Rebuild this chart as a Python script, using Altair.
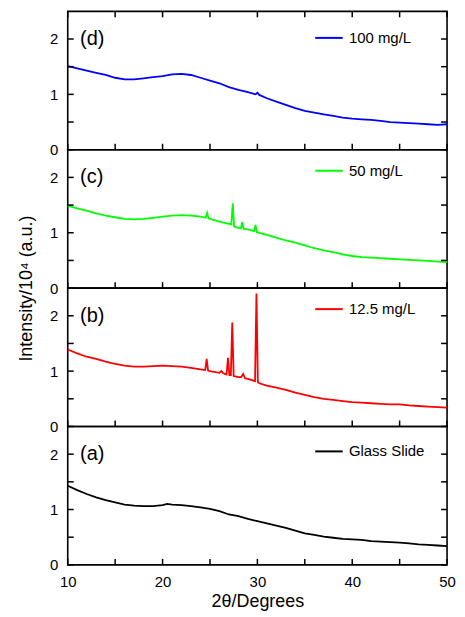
import altair as alt
import pandas as pd

# ---------------- data ----------------
x_ticks = [10, 15, 20, 25, 30, 35, 40, 45, 50]
y_ticks = [0, 0.5, 1, 1.5, 2]

# (a) Glass Slide - black
a_x = [10, 11, 12, 13, 14, 15, 16, 17, 18, 19, 20, 20.5, 21, 22, 23, 24, 25, 26, 27, 28,
       29, 30, 31, 32, 33, 34, 35, 36, 37, 38, 39, 40, 41, 42, 43, 44, 45, 46, 47, 48, 49, 50]
a_y = [1.43, 1.35, 1.28, 1.22, 1.17, 1.13, 1.09, 1.07, 1.06, 1.06, 1.08, 1.10, 1.09, 1.08,
       1.06, 1.04, 1.01, 0.97, 0.91, 0.88, 0.83, 0.79, 0.75, 0.71, 0.67, 0.62, 0.57, 0.54,
       0.51, 0.49, 0.47, 0.46, 0.45, 0.43, 0.42, 0.41, 0.40, 0.39, 0.37, 0.36, 0.35, 0.34]

# (b) 12.5 mg/L - red
b_x = [10, 11, 12, 13, 14, 15, 16, 17, 18, 19, 20, 21, 22, 23, 24, 24.5, 24.65, 24.8, 25,
       26, 26.2, 26.4, 26.75, 26.9, 27.05, 27.2, 27.35, 27.5, 28, 28.3, 28.5, 28.7, 29,
       29.6, 29.75, 29.9, 30.05, 30.2, 31, 32, 33, 34, 35, 36, 37, 38, 39, 40, 41, 42, 43,
       44, 45, 46, 47, 48, 49, 50]
b_y = [1.39, 1.32, 1.26, 1.22, 1.17, 1.13, 1.10, 1.08, 1.08, 1.09, 1.10, 1.09, 1.08, 1.06,
       1.03, 1.02, 1.22, 1.01, 1.00, 0.97, 1.00, 0.96, 0.94, 1.24, 0.93, 0.93, 1.88, 0.91,
       0.89, 0.89, 0.95, 0.87, 0.86, 0.83, 0.82, 2.40, 0.80, 0.78, 0.74, 0.70, 0.66, 0.61,
       0.57, 0.53, 0.50, 0.48, 0.46, 0.44, 0.43, 0.42, 0.41, 0.40, 0.40, 0.38, 0.37, 0.36,
       0.35, 0.34]

# (c) 50 mg/L - green
c_x = [10, 11, 12, 13, 14, 15, 16, 17, 18, 19, 20, 21, 22, 23, 24, 24.55, 24.7, 24.85, 25,
       26, 27, 27.25, 27.4, 27.55, 28, 28.25, 28.4, 28.55, 29, 29.65, 29.8, 29.95, 31, 32,
       33, 34, 35, 36, 37, 38, 39, 40, 41, 42, 43, 44, 45, 46, 47, 48, 49, 50]
c_y = [1.49, 1.44, 1.40, 1.35, 1.31, 1.28, 1.25, 1.24, 1.25, 1.27, 1.29, 1.31, 1.32, 1.31,
       1.29, 1.27, 1.36, 1.26, 1.25, 1.20, 1.16, 1.15, 1.53, 1.11, 1.09, 1.08, 1.19, 1.07,
       1.06, 1.03, 1.14, 1.01, 0.96, 0.91, 0.86, 0.82, 0.77, 0.72, 0.68, 0.65, 0.61, 0.58,
       0.56, 0.55, 0.54, 0.53, 0.52, 0.51, 0.50, 0.49, 0.48, 0.47]

# (d) 100 mg/L - blue
d_x = [10, 11, 12, 13, 14, 15, 16, 17, 18, 19, 20, 21, 22, 23, 24, 25, 26, 27, 28, 29, 29.8,
       30, 30.2, 31, 32, 33, 34, 35, 36, 37, 38, 39, 40, 41, 42, 43, 44, 45, 46, 47, 48, 49, 50]
d_y = [1.51, 1.47, 1.43, 1.39, 1.35, 1.30, 1.27, 1.27, 1.29, 1.31, 1.33, 1.36, 1.37, 1.35,
       1.30, 1.25, 1.20, 1.13, 1.08, 1.04, 1.00, 1.03, 0.99, 0.93, 0.87, 0.81, 0.75, 0.70,
       0.67, 0.64, 0.61, 0.58, 0.56, 0.55, 0.54, 0.52, 0.50, 0.49, 0.48, 0.47, 0.46, 0.45, 0.46]

tags = ["(d)", "(c)", "(b)", "(a)"]
legend_labels = ["100 mg/L", "50 mg/L", "12.5 mg/L", "Glass Slide"]
colors = ["#0000ff", "#00ff00", "#ff0000", "#000000"]

# ---------------- chart ----------------
W, H = 381, 139
FONT = "Liberation Sans"
TICK = 6

xscale = alt.Scale(domain=[10, 50], nice=False, zero=False)
yscale = alt.Scale(domain=[0, 2.5], nice=False, zero=False)

xtick_df = pd.DataFrame({"x": x_ticks})
ytick_df = pd.DataFrame({"y": y_ticks})


def panel(xs, ys, color, tag, legend_text, legend_y, bottom=False, top=False, ytitle=False):
    df = pd.DataFrame({"x": xs, "y": ys})

    x_axis_kw = dict(orient="bottom", values=x_ticks, labels=bottom, ticks=False,
                     tickSize=0, domain=False,
                     labelFont=FONT, labelFontSize=15, labelColor="black",
                     labelPadding=10, labelFlush=False,
                     labelExpr="datum.value % 10 == 0 ? '' + datum.value : ''",
                     title=None)
    if bottom:
        x_axis_kw.update(title="2θ/Degrees", titleFont=FONT, titleFontSize=18,
                         titleFontWeight="normal", titleColor="black", titlePadding=3)
    y_axis_kw = dict(orient="left", values=y_ticks, ticks=False, tickSize=0, domain=False,
                     labelFont=FONT, labelFontSize=15, labelColor="black", labelPadding=10,
                     labelExpr="datum.value % 1 == 0 ? '' + datum.value : ''",
                     title=None)
    if ytitle:
        y_axis_kw.update(title="Intensity/10⁴ (a.u.)", titleFont=FONT, titleFontSize=18,
                         titleFontWeight="normal", titleColor="black",
                         titleX=-41, titleY=0, titleAlign="center", titleBaseline="middle")

    line = alt.Chart(df).mark_line(color=color, strokeWidth=1.8).encode(
        x=alt.X("x:Q", scale=xscale, axis=alt.Axis(**x_axis_kw)),
        y=alt.Y("y:Q", scale=yscale, axis=alt.Axis(**y_axis_kw)),
    )

    # inward ticks (bottom, left, right; top only for the top panel)
    tick_layers = [
        alt.Chart(xtick_df).mark_rule(color="black", strokeWidth=1.5).encode(
            x=alt.X("x:Q"), y=alt.value(H), y2=alt.value(H - TICK)),
        alt.Chart(ytick_df).mark_rule(color="black", strokeWidth=1.5).encode(
            y=alt.Y("y:Q"), x=alt.value(0), x2=alt.value(TICK)),
        alt.Chart(ytick_df).mark_rule(color="black", strokeWidth=1.5).encode(
            y=alt.Y("y:Q"), x=alt.value(W), x2=alt.value(W - TICK)),
    ]
    if top:
        tick_layers.append(
            alt.Chart(xtick_df).mark_rule(color="black", strokeWidth=1.5).encode(
                x=alt.X("x:Q"), y=alt.value(0), y2=alt.value(TICK)))

    leg_df = pd.DataFrame({"label": [legend_text], "tag": [tag]})
    leg_rule = alt.Chart(leg_df).mark_rule(color=color, strokeWidth=2).encode(
        x=alt.X(datum=36.1),
        x2=alt.X2(datum=39.0),
        y=alt.Y(datum=legend_y),
    )
    leg_text = alt.Chart(leg_df).mark_text(
        align="left", baseline="middle", font=FONT, fontSize=15, color="black"
    ).encode(
        x=alt.X(datum=39.65),
        y=alt.Y(datum=legend_y),
        text="label:N",
    )
    tag_text = alt.Chart(leg_df).mark_text(
        align="left", baseline="middle", font=FONT, fontSize=20, color="black"
    ).encode(
        x=alt.X(datum=11.3),
        y=alt.Y(datum=2.0),
        text="tag:N",
    )
    return alt.layer(line, *tick_layers, leg_rule, leg_text, tag_text).properties(
        width=W, height=H)


p_d = panel(d_x, d_y, colors[0], tags[0], legend_labels[0], 2.02, top=True)
p_c = panel(c_x, c_y, colors[1], tags[1], legend_labels[1], 2.12)
p_b = panel(b_x, b_y, colors[2], tags[2], legend_labels[2], 2.12, ytitle=True)
p_a = panel(a_x, a_y, colors[3], tags[3], legend_labels[3], 2.05, bottom=True)

chart = alt.vconcat(p_d, p_c, p_b, p_a, spacing=0, bounds="flush").properties(
    padding={"left": 9, "top": 0, "right": 0, "bottom": 0}
).configure_view(
    stroke="black", strokeWidth=1.6
).configure_axis(
    grid=False
)

chart.save("out.html", embed_options={"renderer": "svg", "actions": False})
